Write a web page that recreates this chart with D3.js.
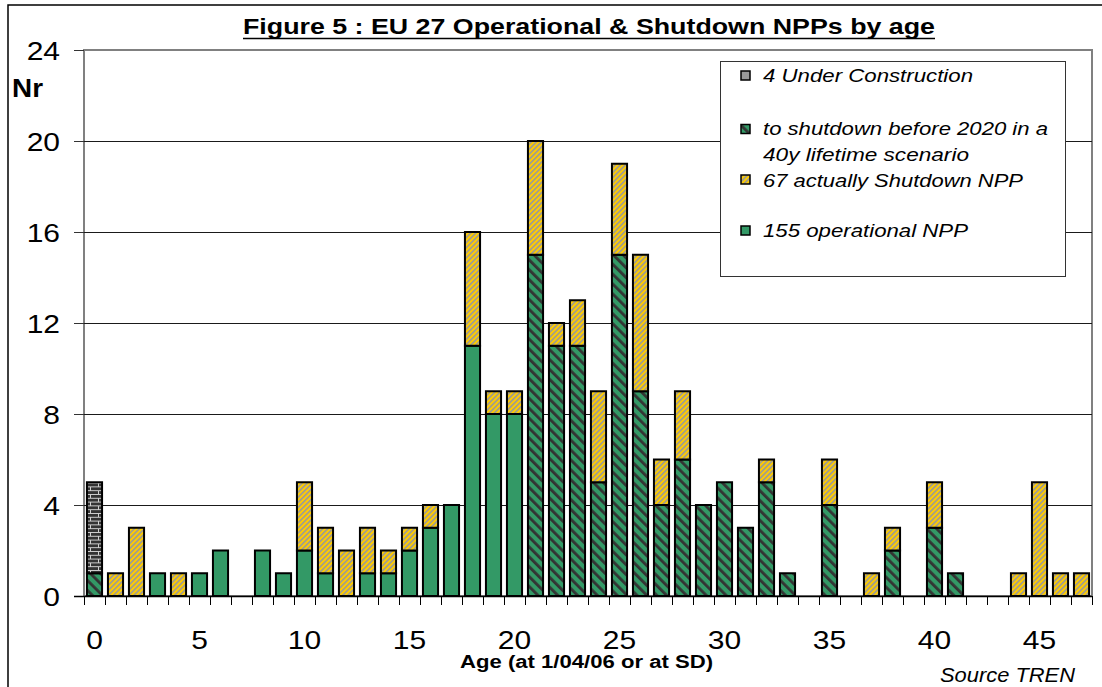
<!DOCTYPE html>
<html>
<head>
<meta charset="utf-8">
<script src="https://cdn.jsdelivr.net/npm/d3@7"></script>
<style>
  html, body { margin: 0; padding: 0; background: #fff; }
  svg { display: block; }
  text { font-family: "Liberation Sans", Arial, sans-serif; fill: #000; }
</style>
</head>
<body>
<svg id="chart" width="1102" height="687"></svg>
<script>
// ---------------- DATA ----------------
const ages = d3.range(0, 48);
// solid green: operational NPP
const operational = [0,0,0,1,0,1,2,0,2,1, 2,1,0,1,1,2,3,4,11,8, 8,0,0,0,0,0,0,0,0,0, 0,0,0,0,0,0,0,0,0,0, 0,0,0,0,0,0,0,0];
// hatched green: to shutdown before 2020 in a 40y lifetime scenario
const toShutdown = [1,0,0,0,0,0,0,0,0,0, 0,0,0,0,0,0,0,0,0,0, 0,15,11,11,5,15,9,4,6,4, 5,3,5,1,0,4,0,0,2,0, 3,1,0,0,0,0,0,0];
// yellow hatched: actually shutdown NPP
const shutdown = [0,1,3,0,1,0,0,0,0,0, 3,2,2,2,1,1,1,0,5,1, 1,5,1,2,4,4,6,2,3,0, 0,0,1,0,0,2,0,1,1,0, 2,0,0,0,1,5,1,1];
// brick: under construction
const construction = [4,0,0,0,0,0,0,0,0,0, 0,0,0,0,0,0,0,0,0,0, 0,0,0,0,0,0,0,0,0,0, 0,0,0,0,0,0,0,0,0,0, 0,0,0,0,0,0,0,0];
const seriesKeys = ["operational", "toShutdown", "shutdown", "construction"];
const legendItems = [
  { key: "construction", lines: ["4 Under Construction"] },
  { key: "toShutdown", lines: ["to shutdown before 2020 in a", "40y lifetime scenario"] },
  { key: "shutdown", lines: ["67 actually Shutdown NPP"] },
  { key: "operational", lines: ["155 operational NPP"] }
];
const yTicks = [0, 4, 8, 12, 16, 20, 24];
const xLabelTicks = [0, 5, 10, 15, 20, 25, 30, 35, 40, 45];
const titleText = "Figure 5 : EU 27 Operational & Shutdown NPPs by age";
const yTitle = "Nr";
const xTitle = "Age (at 1/04/06 or at SD)";
const sourceText = "Source TREN";

// ---------------- SETUP ----------------
const svg = d3.select("#chart");
const plot = { left: 84, right: 1092, top: 50, bottom: 596 };
const SX = 1.19; // horizontal stretch of the original rendering

const x = d3.scaleBand().domain(ages).range([plot.left, plot.right]).paddingInner(0.28).paddingOuter(0.14);
const xStep = (plot.right - plot.left) / ages.length;
const y = d3.scaleLinear().domain([0, 24]).range([plot.bottom, plot.top]);

const defs = svg.append("defs");
// hatched green
const pG = defs.append("pattern").attr("id", "patToShutdown").attr("patternUnits", "userSpaceOnUse")
  .attr("width", 7).attr("height", 7).attr("patternTransform", "rotate(-45)");
pG.append("rect").attr("width", 7).attr("height", 7).attr("fill", "#339966");
pG.append("rect").attr("width", 2.8).attr("height", 7).attr("fill", "#333333");
// yellow hatched
const pY = defs.append("pattern").attr("id", "patShutdown").attr("patternUnits", "userSpaceOnUse")
  .attr("width", 3.6).attr("height", 3.6).attr("patternTransform", "rotate(45)");
pY.append("rect").attr("width", 3.6).attr("height", 3.6).attr("fill", "#FFCC00");
pY.append("rect").attr("width", 1.6).attr("height", 3.6).attr("fill", "#999999");
// brick
const pB = defs.append("pattern").attr("id", "patBrick").attr("patternUnits", "userSpaceOnUse")
  .attr("width", 16).attr("height", 7.6).attr("x", 86).attr("y", 0);
pB.append("rect").attr("width", 16).attr("height", 7.6).attr("fill", "#333333");
pB.append("path").attr("d", "M0,0.5H16M0,4.3H16M4.5,0.5V4.3M12.5,4.3V7.6")
  .attr("stroke", "#d0d0d0").attr("stroke-width", 1).attr("fill", "none");

const fills = {
  operational: "#339966",
  toShutdown: "url(#patToShutdown)",
  shutdown: "url(#patShutdown)",
  construction: "url(#patBrick)"
};
const legendFills = {
  operational: "#339966",
  toShutdown: "url(#patToShutdown)",
  shutdown: "url(#patShutdown)",
  construction: "#999999"
};

function stretchText(g, opts) {
  const t = g.append("text")
    .attr("x", opts.x).attr("y", opts.y)
    .attr("font-size", opts.size)
    .attr("font-weight", opts.weight || "normal")
    .attr("font-style", opts.style || "normal")
    .attr("text-anchor", opts.anchor || "start")
    .text(opts.text);
  const w = t.node().getComputedTextLength();
  const target = opts.width || w * (opts.sx || SX);
  t.attr("textLength", target).attr("lengthAdjust", "spacingAndGlyphs");
  return t;
}

// outer frame
svg.append("rect").attr("x", 8).attr("y", 5).attr("width", 1200).attr("height", 800)
  .attr("fill", "none").attr("stroke", "#000").attr("stroke-width", 1.5);

// plot area border
svg.append("rect").attr("x", plot.left).attr("y", plot.top)
  .attr("width", plot.right - plot.left).attr("height", plot.bottom - plot.top)
  .attr("fill", "#fff").attr("stroke", "#808080").attr("stroke-width", 2);

// gridlines
svg.append("g").selectAll("line").data(yTicks.filter(d => d > 0 && d < 24)).join("line")
  .attr("x1", plot.left).attr("x2", plot.right)
  .attr("y1", d => Math.round(y(d)) + 0.5).attr("y2", d => Math.round(y(d)) + 0.5)
  .attr("stroke", "#1a1a1a").attr("stroke-width", 1);

// y ticks & labels
const yAxisG = svg.append("g");
yAxisG.selectAll("line").data(yTicks).join("line")
  .attr("x1", 74).attr("x2", plot.left)
  .attr("y1", d => Math.round(y(d)) + 0.5).attr("y2", d => Math.round(y(d)) + 0.5)
  .attr("stroke", "#333").attr("stroke-width", 1);
yTicks.forEach(d => stretchText(yAxisG, { x: 60, y: y(d) + 9.5, text: String(d), size: 25, anchor: "end", sx: 1.2 }));

// bars
const table = ages.map((a, i) => ({
  age: a,
  operational: operational[i],
  toShutdown: toShutdown[i],
  shutdown: shutdown[i],
  construction: construction[i]
}));
const stacked = d3.stack().keys(seriesKeys)(table);
const barsG = svg.append("g");
stacked.forEach(layer => {
  barsG.append("g").selectAll("rect")
    .data(layer.filter(d => d[1] - d[0] > 0))
    .join("rect")
    .attr("x", d => x(d.data.age))
    .attr("width", x.bandwidth())
    .attr("y", d => y(d[1]))
    .attr("height", d => y(d[0]) - y(d[1]))
    .attr("fill", fills[layer.key])
    .attr("stroke", "#000")
    .attr("stroke-width", 2);
});

// x axis line & ticks
const xAxisG = svg.append("g");
xAxisG.append("line").attr("x1", 74).attr("x2", plot.right)
  .attr("y1", plot.bottom + 0.5).attr("y2", plot.bottom + 0.5)
  .attr("stroke", "#000").attr("stroke-width", 1.5);
xAxisG.selectAll("line.tick").data(d3.range(0, ages.length + 1)).join("line")
  .attr("class", "tick")
  .attr("x1", i => Math.round(plot.left + i * xStep) + 0.5)
  .attr("x2", i => Math.round(plot.left + i * xStep) + 0.5)
  .attr("y1", plot.bottom).attr("y2", plot.bottom + 9)
  .attr("stroke", "#000").attr("stroke-width", 1);
xLabelTicks.forEach(d => stretchText(xAxisG, {
  x: x(d) + x.bandwidth() / 2, y: 649, text: String(d), size: 25, anchor: "middle", sx: 1.2
}));

// titles
stretchText(svg, { x: 243, y: 34, text: titleText, size: 22, weight: "bold", width: 692 });
svg.append("line").attr("x1", 243).attr("x2", 935).attr("y1", 38.5).attr("y2", 38.5)
  .attr("stroke", "#000").attr("stroke-width", 1.5);
stretchText(svg, { x: 12, y: 97, text: yTitle, size: 26, weight: "bold", width: 31 });
stretchText(svg, { x: 460, y: 668, text: xTitle, size: 18, weight: "bold", width: 253 });
stretchText(svg, { x: 940, y: 682, text: sourceText, size: 21, style: "italic", width: 135 });

// legend
const lg = svg.append("g");
lg.append("rect").attr("x", 720.5).attr("y", 61.5).attr("width", 345).attr("height", 215)
  .attr("fill", "#fff").attr("stroke", "#333").attr("stroke-width", 1);
const legendRows = [
  { sq: 75.5, base: [82] , widths: [210] },
  { sq: 129, base: [135, 161], widths: [285, 206] },
  { sq: 179.5, base: [187], widths: [260] },
  { sq: 230.5, base: [237], widths: [205] }
];
legendItems.forEach((item, i) => {
  const r = legendRows[i];
  lg.append("rect").attr("x", 741).attr("y", r.sq - 4.5).attr("width", 9).attr("height", 9)
    .attr("fill", legendFills[item.key]).attr("stroke", "#000").attr("stroke-width", 1.5);
  item.lines.forEach((ln, j) => stretchText(lg, {
    x: 763, y: r.base[j], text: ln, size: 19, style: "italic", width: r.widths[j]
  }));
});
</script>
</body>
</html>
